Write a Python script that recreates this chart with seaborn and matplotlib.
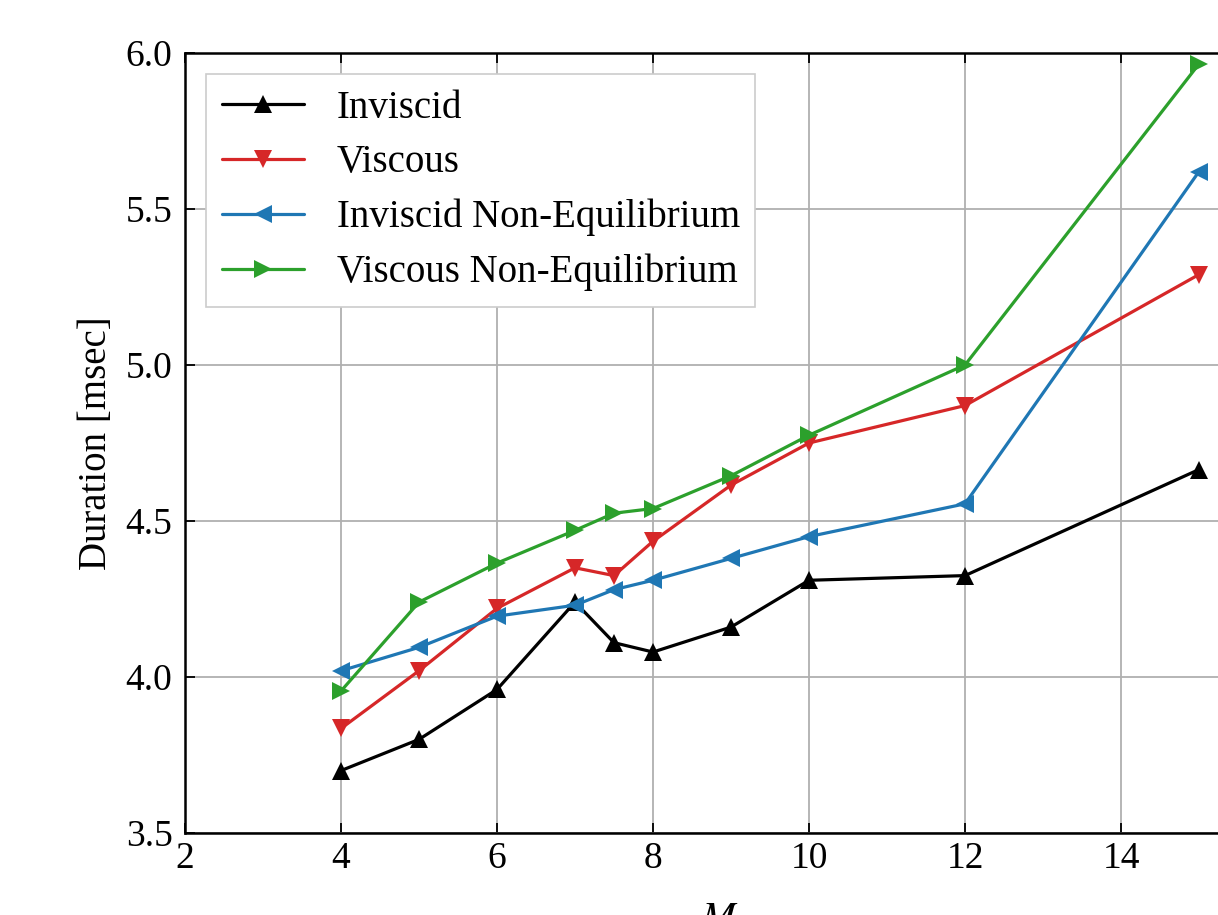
import numpy as np
import pandas as pd
import matplotlib
matplotlib.use("Agg")
import matplotlib.pyplot as plt
import seaborn as sns

mach = [4, 5, 6, 7, 7.5, 8, 9, 10, 12, 15]
inviscid = [3.70, 3.80, 3.96, 4.24, 4.11, 4.08, 4.16, 4.31, 4.325, 4.665]
viscous = [3.835, 4.02, 4.22, 4.35, 4.325, 4.435, 4.615, 4.75, 4.87, 5.29]
inviscid_ne = [4.02, 4.095, 4.195, 4.23, 4.28, 4.31, 4.38, 4.45, 4.555, 5.62]
viscous_ne = [3.955, 4.24, 4.365, 4.47, 4.525, 4.54, 4.645, 4.775, 5.00, 5.965]
series_names = ["Inviscid", "Viscous", "Inviscid Non-Equilibrium", "Viscous Non-Equilibrium"]
x_ticks = [2, 4, 6, 8, 10, 12, 14, 16]
x_tick_labels = ["2", "4", "6", "8", "10", "12", "14", ""]
y_ticks = [3.5, 4.0, 4.5, 5.0, 5.5, 6.0]

sns.set_theme(style="ticks")
plt.rcParams["font.family"] = ["Liberation Serif", "DejaVu Serif"]
plt.rcParams["mathtext.fontset"] = "stix"
plt.rcParams["text.color"] = "black"
plt.rcParams["axes.labelcolor"] = "black"
plt.rcParams["xtick.color"] = "black"
plt.rcParams["ytick.color"] = "black"

df = pd.concat([
    pd.DataFrame({"M": mach, "Duration": vals, "Case": name})
    for name, vals in zip(series_names, [inviscid, viscous, inviscid_ne, viscous_ne])
])

palette = {"Inviscid": "black", "Viscous": "#d62728",
           "Inviscid Non-Equilibrium": "#1f77b4", "Viscous Non-Equilibrium": "#2ca02c"}
markers = {"Inviscid": "^", "Viscous": "v",
           "Inviscid Non-Equilibrium": "<", "Viscous Non-Equilibrium": ">"}

fig = plt.figure(figsize=(12.18, 9.15), dpi=100)
ax = fig.add_axes([185 / 1218, 82 / 915, 1092 / 1218, 780 / 915])

sns.lineplot(data=df, x="M", y="Duration", hue="Case", style="Case",
             palette=palette, markers=markers, dashes=False,
             linewidth=2.3, markersize=13, markeredgewidth=0,
             hue_order=series_names, style_order=series_names, ax=ax)

ax.set_xlim(2, 16)
ax.set_ylim(3.5, 6.0)
ax.set_xticks(x_ticks)
ax.set_xticklabels(x_tick_labels)
ax.set_yticks(y_ticks)
ax.set_yticklabels([f"{v:.1f}" for v in y_ticks])
ax.grid(True, color="#b0b0b0", linewidth=1.3)
ax.tick_params(direction="in", top=True, right=True, labelsize=27, length=7, width=1.3)
ax.tick_params(axis="y", pad=9)
ax.tick_params(axis="x", pad=6)
for s in ax.spines.values():
    s.set_linewidth(1.8)
    s.set_color("black")
ax.set_xlabel(r"$M_\infty$", fontsize=30, labelpad=19)
ax.set_ylabel("Duration [msec]", fontsize=28, labelpad=8)

leg = ax.legend(loc="upper left", fontsize=28, frameon=True, fancybox=False,
                edgecolor="#cccccc", framealpha=1, borderpad=0.4,
                handlelength=2.1, handletextpad=0.85, labelspacing=0.45,
                bbox_to_anchor=(0.0, 1.0), borderaxespad=0.55)
leg.get_frame().set_linewidth(1.2)
for t in leg.get_texts():
    t.set_color("black")

fig.savefig("out.png", dpi=100)
